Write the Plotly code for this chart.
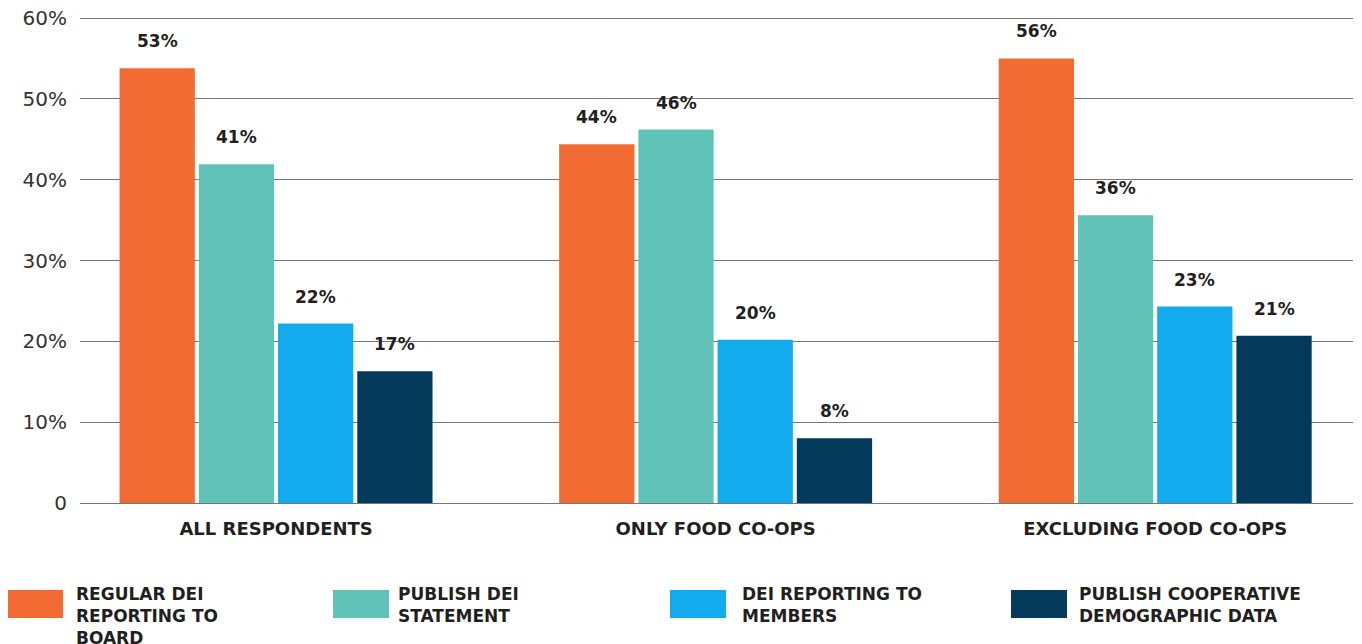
import plotly.graph_objects as go

categories = ["ALL RESPONDENTS", "ONLY FOOD CO-OPS", "EXCLUDING FOOD CO-OPS"]
series_names = ["REGULAR DEI<br>REPORTING TO<br>BOARD", "PUBLISH DEI<br>STATEMENT",
                "DEI REPORTING TO<br>MEMBERS", "PUBLISH COOPERATIVE<br>DEMOGRAPHIC DATA"]
colors = ["#F26B33", "#61C3B8", "#12ABEE", "#043A5C"]

# bar heights as drawn
regular_board = [53.8, 44.4, 55.0]
publish_statement = [41.9, 46.2, 35.6]
reporting_members = [22.2, 20.2, 24.3]
publish_demographic = [16.3, 8.0, 20.7]
# printed labels
regular_board_lbl = ["53%", "44%", "56%"]
publish_statement_lbl = ["41%", "46%", "36%"]
reporting_members_lbl = ["22%", "20%", "23%"]
publish_demographic_lbl = ["17%", "8%", "21%"]

y_tickvals = [0, 10, 20, 30, 40, 50, 60]
y_ticktext = ["0", "10%", "20%", "30%", "40%", "50%", "60%"]

values = [regular_board, publish_statement, reporting_members, publish_demographic]
labels = [regular_board_lbl, publish_statement_lbl, reporting_members_lbl, publish_demographic_lbl]

OFF = 8  # page body margin
W, H = 1362 - OFF, 644 - OFF
Y_TOP = 60.5
PX_PER_UNIT = 485 / 60
ML, MR, MB = 80 - OFF, 9, 141
MT = round(18 - OFF - (Y_TOP - 60) * PX_PER_UNIT)
BARGAP = 0.279
BARGROUPGAP = 0.05
TXT = "#231F20"
BOLD = "DejaVu Sans"

fig = go.Figure()
for name, vals, col in zip(series_names, values, colors):
    fig.add_trace(go.Bar(x=categories, y=vals, name=name, marker=dict(color=col, line=dict(width=0)),
                         showlegend=False))

# data labels above bars
n = len(values)
slot = (1 - BARGAP) / n
annotations = []
for j, (vals, lbls) in enumerate(zip(values, labels)):
    for i, (v, t) in enumerate(zip(vals, lbls)):
        annotations.append(dict(x=i + (j - (n - 1) / 2) * slot, y=v, xref="x", yref="y", text=t,
                                showarrow=False, yshift=27,
                                font=dict(family=BOLD, size=17, color=TXT, weight="bold")))

# manual legend (large swatches); positions given in page pixels
def px_x(p):
    return (p - OFF - ML) / (W - ML - MR)

def px_y(p):
    return (H - MB - (p - OFF)) / (H - MT - MB)

shapes = []
leg_box_x = [7, 333, 670, 1011]
leg_text_x = [76, 398, 742, 1079]
for k, (name, col) in enumerate(zip(series_names, colors)):
    shapes.append(dict(type="rect", xref="paper", yref="paper",
                       x0=px_x(leg_box_x[k]), x1=px_x(leg_box_x[k] + 56),
                       y0=px_y(618), y1=px_y(590), fillcolor=col, line=dict(width=0)))
    annotations.append(dict(xref="paper", yref="paper", x=px_x(leg_text_x[k] - 2), y=px_y(582),
                            xanchor="left", yanchor="top", align="left", text=name, showarrow=False,
                            font=dict(family=BOLD, size=17, color=TXT, weight="bold")))

fig.update_layout(
    width=W, height=H,
    margin=dict(l=ML, r=MR, t=MT, b=MB, autoexpand=False),
    plot_bgcolor="white", paper_bgcolor="white",
    barmode="group", bargap=BARGAP, bargroupgap=BARGROUPGAP,
    showlegend=False,
    shapes=shapes, annotations=annotations,
    xaxis=dict(range=[-0.446, 2.450], showgrid=False, showline=False, zeroline=False,
               automargin=False,
               tickfont=dict(family=BOLD, size=18, color=TXT, weight="bold"),
               ticks="", ticklabelstandoff=13),
    yaxis=dict(range=[0, Y_TOP], tickvals=y_tickvals, ticktext=y_ticktext,
               showgrid=True, gridcolor="#777777", gridwidth=1, automargin=False,
               zeroline=True, zerolinecolor="#777777", zerolinewidth=1,
               showline=False, ticks="", ticklabelstandoff=12, ticklabeloverflow="allow",
               tickfont=dict(family="DejaVu Sans", size=20, color="#333333")),
)

fig.write_html("out.html")
